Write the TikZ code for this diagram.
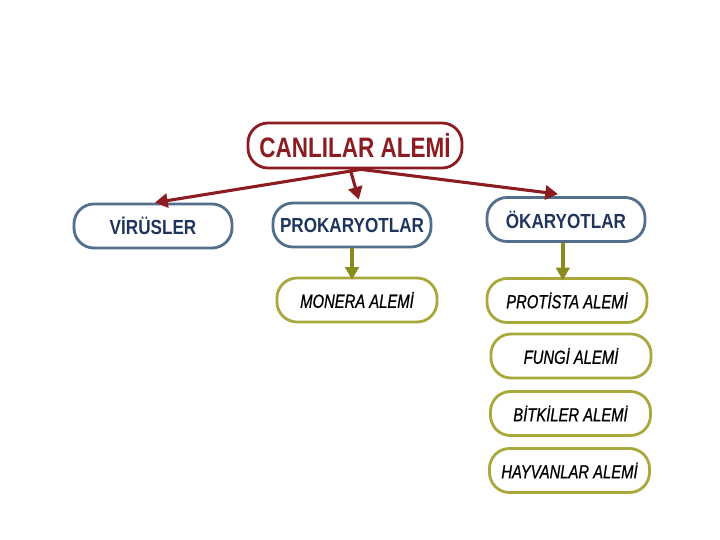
\documentclass[tikz,border=0pt]{standalone}
\usepackage{fontspec}
\usepackage{xcolor}
\usepackage{tikz}
\usetikzlibrary{arrows.meta,positioning,calc}
\newfontfamily\headfont[FakeStretch=0.8]{Liberation Sans}
\newfontfamily\groupfont[FakeStretch=0.84]{Liberation Sans}
\newfontfamily\realmfont[FakeStretch=0.78,FakeBold=0.8]{Liberation Sans}
\definecolor{kingdomred}{HTML}{8C1C22}
\definecolor{groupblue}{HTML}{536F8B}
\definecolor{grouptext}{HTML}{1F355E}
\definecolor{realmolive}{HTML}{A8A83C}
\definecolor{arrowolive}{HTML}{8A8A1E}

\begin{document}
\begin{tikzpicture}[
  root/.style={rectangle,rounded corners=0.5cm,draw=kingdomred,line width=2pt,fill=white,minimum width=5.35cm,minimum height=1.125cm,text=kingdomred,font=\headfont\fontsize{20}{22}\selectfont\bfseries},
  group/.style={rectangle,rounded corners=0.5cm,draw=groupblue,line width=2pt,fill=white,minimum width=3.95cm,minimum height=1.1cm,text=grouptext,font=\groupfont\fontsize{14.5}{16}\selectfont\bfseries},
  realm/.style={rectangle,rounded corners=0.5cm,draw=realmolive,line width=2pt,fill=white,minimum width=4cm,minimum height=1.1cm,text=black,font=\realmfont\fontsize{13.5}{15}\selectfont\itshape},
  redarr/.style={draw=kingdomred,line width=2.2pt,-{Triangle[length=9pt,width=10pt]}},
  olivearr/.style={draw=arrowolive,line width=3pt,-{Triangle[length=9pt,width=9.5pt]}}
]
\useasboundingbox (0,0) rectangle (18,13.5);

\node[root] (canli) at (8.875,9.8625) {CANLILAR ALEMİ};

\node[group] (virus) at (3.825,7.85) {VİRÜSLER};
\node[group] (prok) at (8.8,7.875) {PROKARYOTLAR};
\node[group] (okar) at (14.15,8.0125) {ÖKARYOTLAR};

\node[realm] (monera) at (8.925,6.0) {MONERA ALEMİ};
\node[realm] (protista) at (14.175,5.9875) {PROTİSTA ALEMİ};
\node[realm] (fungi) at (14.275,4.6) {FUNGİ ALEMİ};
\node[realm] (bitki) at (14.2625,3.1625) {BİTKİLER ALEMİ};
\node[realm] (hayvan) at (14.2375,1.7375) {HAYVANLAR ALEMİ};

\coordinate (split) at ($(canli.south)+(0.15,0)$);
\draw[redarr] (split) -- ($(virus.north)+(0.05,0)$);
\draw[redarr] ($(canli.south)+(-0.12,0)$) -- ($(prok.north)+(0.17,0.05)$);
\draw[redarr] (split) -- ($(okar.north)+(-0.2,0.05)$);

\draw[olivearr] (prok.south) -- ($(prok.south |- monera.north)+(0,-0.08)$);
\draw[olivearr] ($(okar.south)+(-0.08,0)$) -- ($(okar.south |- protista.north)+(-0.08,-0.08)$);
\end{tikzpicture}
\end{document}
